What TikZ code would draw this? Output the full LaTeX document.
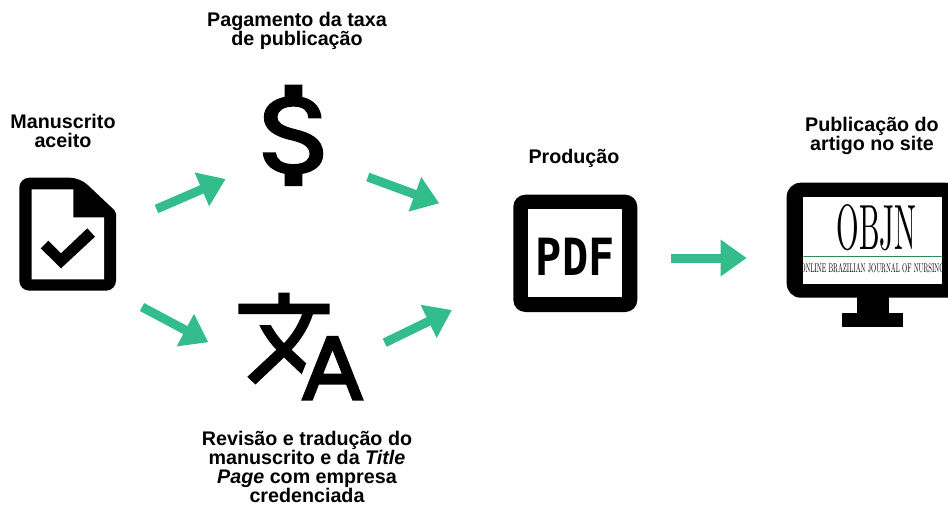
\documentclass[tikz,border=0pt]{standalone}
\usepackage{fontspec}
\usepackage{graphicx}
\setmainfont{Liberation Sans}
\newfontfamily\pdffont{DejaVu Sans Mono}
\newfontfamily\logofont{Latin Modern Roman}
\usetikzlibrary{arrows.meta,svg.path}
\definecolor{flowgreen}{HTML}{33BD8C}
\definecolor{rulegreen}{HTML}{2E8B57}
\tikzset{
  lbl/.style={align=center,inner sep=0pt,font=\fontsize{19.7}{19}\selectfont\bfseries},
  flow/.style={draw=flowgreen,line width=9pt,-{Triangle[length=26pt,width=35pt,fill=flowgreen]}},
  icon/.style={fill=black,draw=none}
}
\begin{document}
\begin{tikzpicture}[x=1pt,y=-1pt]
\useasboundingbox (0,0) rectangle (948,506);
\clip (0,0) rectangle (948,506);
% labels
\node[lbl] (pay) at (297,30.5) {Pagamento da taxa\\de publicação};
\node[lbl] (ms) at (63,131) {Manuscrito\\aceito};
\node[lbl] (prod) at (574,158.5) {Produção};
\node[lbl] (pub) at (872,135.5) {Publicação do\\artigo no site};
\node[lbl] (rev) at (307,467) {Revisão e tradução do\\manuscrito e da \textit{Title}\\\textit{Page} com empresa\\credenciada};
% document icon
\fill[icon,rounded corners=10pt] (19.3,177.7) -- (80,177.7) [rounded corners=2pt] -- (116,211.7) [rounded corners=10pt] -- (116,290.7) -- (19.3,290.7) -- cycle;
\fill[white] (31.7,189.3) -- (73.3,189.3) -- (73.3,217.3) -- (104,217.3) -- (104,279.3) -- (31.7,279.3) -- cycle;
\fill[black] (40.7,248.3) -- (48.3,240.7) -- (61,253.3) -- (87.3,228.3) -- (95,236.7) -- (61,268.3) -- cycle;
% dollar
\begin{scope}[shift={(225.1,67.8)},xscale=5.95,yscale=-5.63]
\fill[black] svg {M11.8 10.9c-2.27-.59-3-1.2-3-2.15 0-1.09 1.01-1.85 2.7-1.85 1.78 0 2.44.85 2.5 2.1h2.21c-.07-1.72-1.12-3.3-3.21-3.81V3h-3v2.16c-1.94.42-3.5 1.68-3.5 3.61 0 2.31 1.91 3.46 4.7 4.13 2.5.6 3 1.48 3 2.41 0 .69-.49 1.79-2.7 1.79-2.06 0-2.87-.92-2.98-2.1h-2.2c.12 2.19 1.76 3.42 3.68 3.83V21h3v-2.15c1.95-.37 3.5-1.5 3.5-3.55 0-2.84-2.43-3.81-4.7-4.4z};
\end{scope}
% translate
\begin{scope}[shift={(232.6,281.9)},xscale=5.71,yscale=-5.4]
\fill[black,even odd rule] svg {M12.87 15.07l-2.54-2.51.03-.03c1.74-1.94 2.98-4.17 3.71-6.53H17V4h-7V2H8v2H1v1.99h11.17C11.5 7.92 10.44 9.75 9 11.35 8.07 10.32 7.3 9.19 6.69 8h-2c.73 1.63 1.73 3.17 2.98 4.56l-5.09 5.02L4 19l5-5 3.11 3.11.76-2.04zM18.5 10h-2L12 22h2l1.12-3h4.75L21 22h2l-4.5-12zm-2.62 7l1.62-4.33L19.12 17h-3.24z};
\end{scope}
% pdf icon
\fill[icon,rounded corners=12pt] (513.3,194.7) rectangle (637.3,312);
\fill[white] (528.3,209.3) rectangle (622,297.3);
\node[inner sep=0pt] (pdf) at (575.3,257) {\resizebox{78.7pt}{37.4pt}{\pdffont\bfseries PDF}};
% monitor
\fill[icon] (857.3,290) rectangle (889,312.7);
\fill[icon] (841.7,312.7) rectangle (903.3,327.3);
\fill[icon,rounded corners=14pt] (786.7,182.7) rectangle (960,297.7);
\fill[white] (803.3,197.3) rectangle (941.7,284);
\begin{scope}
\clip (803.3,197.3) rectangle (941.7,284);
\node[inner sep=0pt] (logo) at (876.7,227.5) {\resizebox{80pt}{45pt}{\logofont OBJN}};
\draw[rulegreen,line width=1pt] (803.3,256) -- (941.7,256);
\node[inner sep=0pt] (tagline) at (872.5,268.5) {\resizebox{144pt}{9pt}{\logofont ONLINE BRAZILIAN JOURNAL OF NURSING}};
\end{scope}
% connectors
\coordinate (a1s) at (156.5,209); \coordinate (a1e) at (225.7,179);
\coordinate (a2s) at (142,307); \coordinate (a2e) at (208.3,342.3);
\coordinate (a3s) at (367.8,177); \coordinate (a3e) at (439.3,203.3);
\coordinate (a4s) at (384.7,342.7); \coordinate (a4e) at (452,310);
\coordinate (a5s) at (671.3,258); \coordinate (a5e) at (746.7,258);
\draw[flow] (a1s) -- (a1e);
\draw[flow] (a2s) -- (a2e);
\draw[flow] (a3s) -- (a3e);
\draw[flow] (a4s) -- (a4e);
\draw[flow] (a5s) -- (a5e);
\end{tikzpicture}
\end{document}
